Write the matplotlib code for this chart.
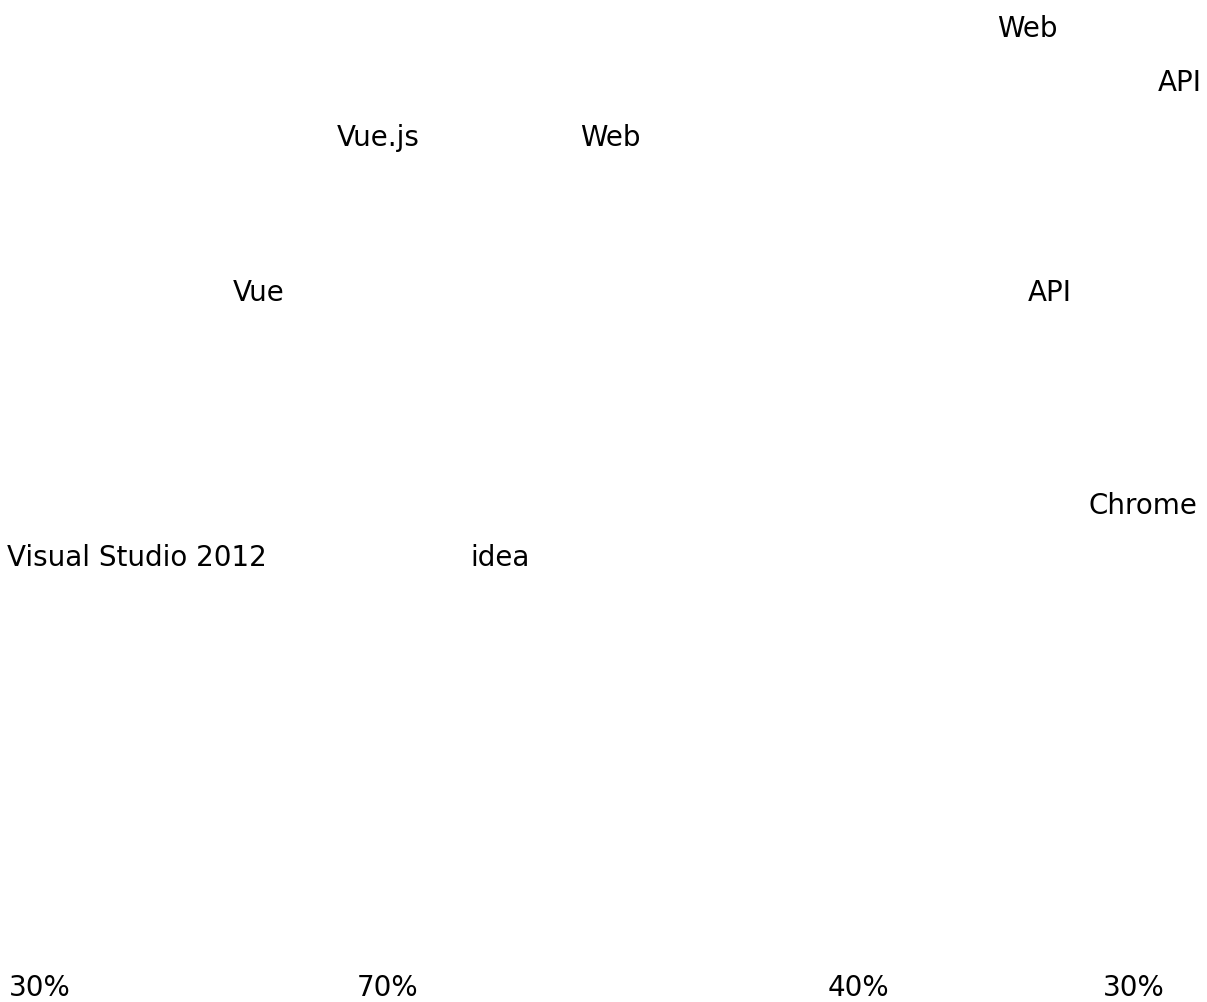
import matplotlib
matplotlib.use("Agg")
import matplotlib.pyplot as plt

# the Latin words that show on the page (the CJK glyphs around them are blank)
words = ["Web", "API", "Vue.js", "Web", "Vue", "API",
         "Chrome", "Visual Studio 2012", "idea"]
percents = ["30%", "70%", "40%", "30%"]

# layout in pixels: x, baseline y, alignment  (page is 1207x1002)
word_pos = [(997, 37, "left"), (1202, 91, "right"), (337, 146, "left"),
            (580, 146, "left"), (233, 301, "left"), (1028, 301, "left"),
            (1088, 514, "left"), (7, 566, "left"), (470, 566, "left")]
pct_pos = [(9, 996), (357, 996), (828, 996), (1103, 996)]

W, H = 1207, 1002

fig = plt.figure(figsize=(W / 100, H / 100), dpi=100)
fig.patch.set_facecolor("white")

for txt, (x, y, ha) in zip(words, word_pos):
    fig.text(x / W, 1 - y / H, txt, ha=ha, va="baseline",
             fontsize=20, family="DejaVu Sans", color="black")
for txt, (x, y) in zip(percents, pct_pos):
    fig.text(x / W, 1 - y / H, txt, ha="left", va="baseline",
             fontsize=20, family="DejaVu Sans", color="black")

fig.savefig("out.png", dpi=100, facecolor="white")
